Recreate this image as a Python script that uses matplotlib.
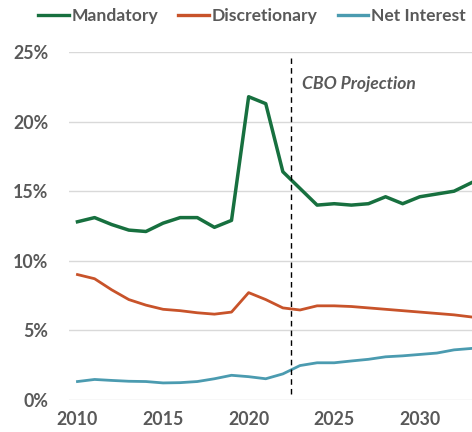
import matplotlib
matplotlib.use("Agg")
import matplotlib.pyplot as plt

years = list(range(2010, 2034))
mandatory = [12.8, 13.1, 12.6, 12.2, 12.1, 12.7, 13.1, 13.1, 12.4, 12.9,
             21.8, 21.3, 16.4, 15.2, 14.0, 14.1, 14.0, 14.1, 14.6, 14.1,
             14.6, 14.8, 15.0, 15.6]
discretionary = [9.0, 8.7, 7.9, 7.2, 6.8, 6.5, 6.4, 6.25, 6.15, 6.3,
                 7.7, 7.2, 6.6, 6.45, 6.75, 6.75, 6.7, 6.6, 6.5, 6.4,
                 6.3, 6.2, 6.1, 5.95]
net_interest = [1.3, 1.45, 1.38, 1.32, 1.3, 1.2, 1.22, 1.3, 1.5, 1.75,
                1.65, 1.5, 1.85, 2.45, 2.65, 2.65, 2.78, 2.9, 3.08, 3.15,
                3.25, 3.35, 3.58, 3.68]
series_names = ["Mandatory", "Discretionary", "Net Interest"]
yticks = [0, 5, 10, 15, 20, 25]
ytick_labels = ["0%", "5%", "10%", "15%", "20%", "25%"]
xticks = [2010, 2015, 2020, 2025, 2030]
projection_start = 2022.5
annot = "CBO Projection"

plt.rcParams['font.family'] = ['Lato', 'DejaVu Sans']

fig = plt.figure(figsize=(4.72, 4.32), dpi=100)
ax = fig.add_axes([0.146, 0.075, 0.854, 0.804])

green = "#17703F"
orange = "#C8532A"
blue = "#4B9BB0"
grey = "#595959"

for v in yticks:
    ax.axhline(v, color="#D9D9D9", lw=1.0, zorder=0)

l1, = ax.plot(years, mandatory, color=green, lw=2.5, solid_joinstyle='round')
l2, = ax.plot(years, discretionary, color=orange, lw=2.0, solid_joinstyle='round')
l3, = ax.plot(years, net_interest, color=blue, lw=2.0, solid_joinstyle='round')

ax.plot([projection_start, projection_start], [0.4, 24.6], color="black",
        lw=1.0, ls=(0, (4, 3)))
ax.text(2023.1, 22.75, annot, fontsize=12.6, fontstyle='italic',
        fontweight='bold', color=grey, va='center', ha='left')

ax.set_xlim(2009.5, 2033.05)
ax.set_ylim(0, 25)
ax.set_yticks(yticks)
ax.set_yticklabels(ytick_labels)
ax.set_xticks(xticks)
for s in ax.spines.values():
    s.set_visible(False)
ax.tick_params(axis='both', length=0, labelcolor=grey, labelsize=12.8)
ax.tick_params(axis='y', pad=15)
ax.tick_params(axis='x', pad=8)
for lab in ax.get_xticklabels() + ax.get_yticklabels():
    lab.set_fontweight('bold')

leg = fig.legend([l1, l2, l3], series_names, loc='center',
                 bbox_to_anchor=(0.534, 0.962), ncol=3, frameon=False,
                 handlelength=1.75, handletextpad=0.15, columnspacing=1.15,
                 prop={'weight': 'bold', 'size': 12.6})
for t in leg.get_texts():
    t.set_color(grey)
for h in leg.legend_handles:
    h.set_linewidth(2.4)

fig.savefig("out.png", dpi=100)
